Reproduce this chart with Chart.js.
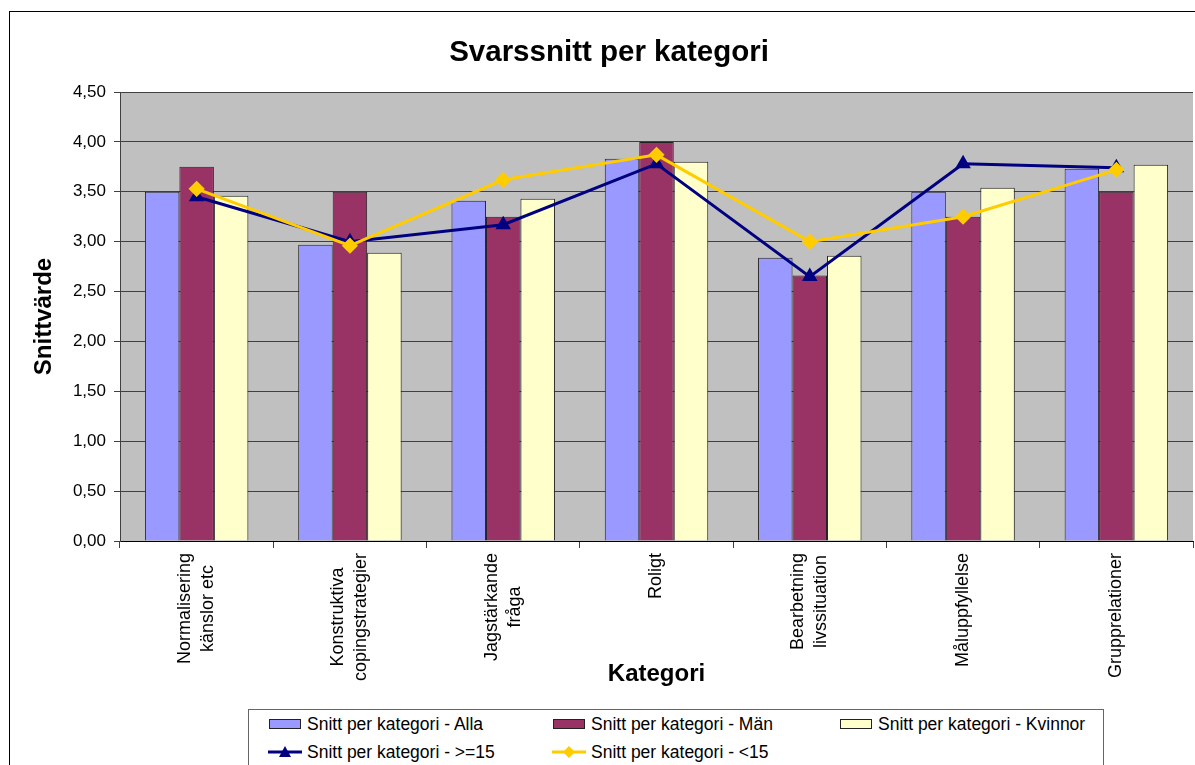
<!DOCTYPE html>
<html>
<head>
<meta charset="utf-8">
<script src="https://cdn.jsdelivr.net/npm/chart.js@4/dist/chart.umd.min.js"></script>
<style>
  html, body { margin: 0; padding: 0; background: #fff; width: 1195px; height: 765px; overflow: hidden; }
  body { position: relative; font-family: "Liberation Sans", Arial, sans-serif; }
  #frame { position: absolute; left: 9px; top: 11px; width: 1200px; height: 800px; border: 1px solid #000; }
  #chart { position: absolute; left: 0; top: 0; }
  #legend { position: absolute; left: 248px; top: 709px; width: 854px; height: 80px; border: 1px solid #666; background: #fff; }
  .item { position: absolute; display: flex; align-items: center; height: 20px; font-size: 17.5px; color: #000; white-space: nowrap; }
  .item canvas { margin-right: 5px; }
</style>
</head>
<body>
<div id="frame"></div>
<canvas id="chart" width="1195" height="765"></canvas>
<div id="legend"></div>
<script>
const categories = [
  ["Normalisering", "känslor etc"],
  ["Konstruktiva", "copingstrategier"],
  ["Jagstärkande", "fråga"],
  ["Roligt"],
  ["Bearbetning", "livssituation"],
  ["Måluppfyllelse"],
  ["Grupprelationer"]
];
const alla    = [3.50, 2.97, 3.41, 3.83, 2.84, 3.50, 3.73];
const man     = [3.75, 3.50, 3.25, 4.00, 2.66, 3.25, 3.50];
const kvinnor = [3.46, 2.89, 3.43, 3.80, 2.86, 3.54, 3.77];
const over15  = [3.45, 3.00, 3.17, 3.78, 2.65, 3.78, 3.74];
const under15 = [3.53, 2.96, 3.62, 3.87, 3.00, 3.25, 3.72];
const yMin = 0, yMax = 4.5, yStep = 0.5;

const FONT = '"Liberation Sans", Arial, sans-serif';

function fmt(v) { return v.toFixed(2).replace(".", ","); }

// grey plot background + centred, rotated category labels
const plotBits = {
  id: "plotBits",
  beforeDraw(chart) {
    const a = chart.chartArea;
    const ctx = chart.ctx;
    ctx.save();
    ctx.fillStyle = "#C0C0C0";
    ctx.fillRect(a.left, a.top, a.right - a.left, a.bottom - a.top);
    ctx.restore();
  },
  afterDraw(chart) {
    const x = chart.scales.x;
    const ctx = chart.ctx;
    const lh = 23;
    ctx.save();
    ctx.font = "18px " + FONT;
    ctx.fillStyle = "#000";
    ctx.textAlign = "center";
    ctx.textBaseline = "middle";
    categories.forEach((lines, i) => {
      const px = x.getPixelForValue(i);
      const w = Math.max(...lines.map(l => ctx.measureText(l).width));
      ctx.save();
      ctx.translate(px, chart.chartArea.bottom + 12);
      ctx.rotate(-Math.PI / 2);
      lines.forEach((l, j) => {
        ctx.fillText(l, -w / 2, (j - (lines.length - 1) / 2) * lh);
      });
      ctx.restore();
    });
    ctx.restore();
  }
};

const datasets = [
  { label: "Snitt per kategori - Alla", data: alla, backgroundColor: "#9999FF", borderColor: "#222", borderWidth: 1, order: 3 },
  { label: "Snitt per kategori - Män", data: man, backgroundColor: "#993366", borderColor: "#222", borderWidth: 1, order: 3 },
  { label: "Snitt per kategori - Kvinnor", data: kvinnor, backgroundColor: "#FFFFCC", borderColor: "#222", borderWidth: 1, order: 3 },
  { type: "line", label: "Snitt per kategori - >=15", data: over15, borderColor: "#000080", backgroundColor: "#000080",
    borderWidth: 3, tension: 0, pointStyle: "triangle", pointRadius: 6, pointBackgroundColor: "#000080", pointBorderColor: "#000080", order: 2 },
  { type: "line", label: "Snitt per kategori - <15", data: under15, borderColor: "#FFCC00", backgroundColor: "#FFCC00",
    borderWidth: 3, tension: 0, pointStyle: "rectRot", pointRadius: 6, pointBackgroundColor: "#FFCC00", pointBorderColor: "#FFCC00", order: 1 }
];

const chart = new Chart(document.getElementById("chart").getContext("2d"), {
  type: "bar",
  data: { labels: categories, datasets },
  options: {
    responsive: false,
    animation: false,
    datasets: { bar: { categoryPercentage: 0.675, barPercentage: 1.0 } },
    layout: { autoPadding: false, padding: { top: 12, left: 25, right: 2, bottom: 0 } },
    plugins: {
      legend: { display: false },
      tooltip: { enabled: false },
      title: {
        display: true, text: "Svarssnitt per kategori", color: "#000",
        font: { family: FONT, size: 29.5, weight: "bold" },
        padding: { top: 23.3, bottom: 21.3 }
      }
    },
    scales: {
      x: {
        offset: true,
        grid: { display: true, drawOnChartArea: false, drawTicks: true, tickLength: 7, color: "#404040", offset: true },
        border: { color: "#000" },
        ticks: { display: false },
        title: { display: true, text: "Kategori", color: "#000", font: { family: FONT, size: 24, weight: "bold" }, padding: { top: 0, bottom: 76.6 } },
        afterFit(s) { s.height = 224; }
      },
      y: {
        min: yMin, max: yMax,
        grid: { color: "#404040", tickLength: 6 },
        border: { color: "#404040" },
        ticks: { stepSize: yStep, padding: 8, color: "#000", font: { family: FONT, size: 17 }, callback: v => fmt(v) },
        title: { display: true, text: "Snittvärde", color: "#000", font: { family: FONT, size: 24, weight: "bold" }, padding: { top: 4.6, bottom: 0 } },
        afterFit(s) { s.width = 95; }
      }
    }
  },
  plugins: [plotBits]
});

// legend, built from the datasets
const legendPos = [[268, 724], [552, 724], [839, 724], [268, 752], [552, 752]];
const legend = document.getElementById("legend");
datasets.forEach((ds, i) => {
  const item = document.createElement("div");
  item.className = "item";
  item.style.left = (legendPos[i][0] - 249) + "px";
  item.style.top = (legendPos[i][1] - 710 - 10) + "px";
  const sw = document.createElement("canvas");
  sw.width = 34; sw.height = 14;
  const c = sw.getContext("2d");
  if (ds.type === "line") {
    c.strokeStyle = ds.borderColor; c.lineWidth = 3;
    c.beginPath(); c.moveTo(0, 7); c.lineTo(34, 7); c.stroke();
    c.fillStyle = ds.borderColor;
    c.beginPath();
    if (ds.pointStyle === "triangle") { c.moveTo(17, 1); c.lineTo(23, 12); c.lineTo(11, 12); }
    else { c.moveTo(17, 1); c.lineTo(23, 7); c.lineTo(17, 13); c.lineTo(11, 7); }
    c.closePath(); c.fill();
  } else {
    c.fillStyle = ds.backgroundColor; c.fillRect(1.5, 2.5, 31, 9);
    c.strokeStyle = "#222"; c.lineWidth = 1; c.strokeRect(1.5, 2.5, 31, 9);
  }
  const t = document.createElement("span");
  t.textContent = ds.label;
  item.appendChild(sw);
  item.appendChild(t);
  legend.appendChild(item);
});
</script>
</body>
</html>
